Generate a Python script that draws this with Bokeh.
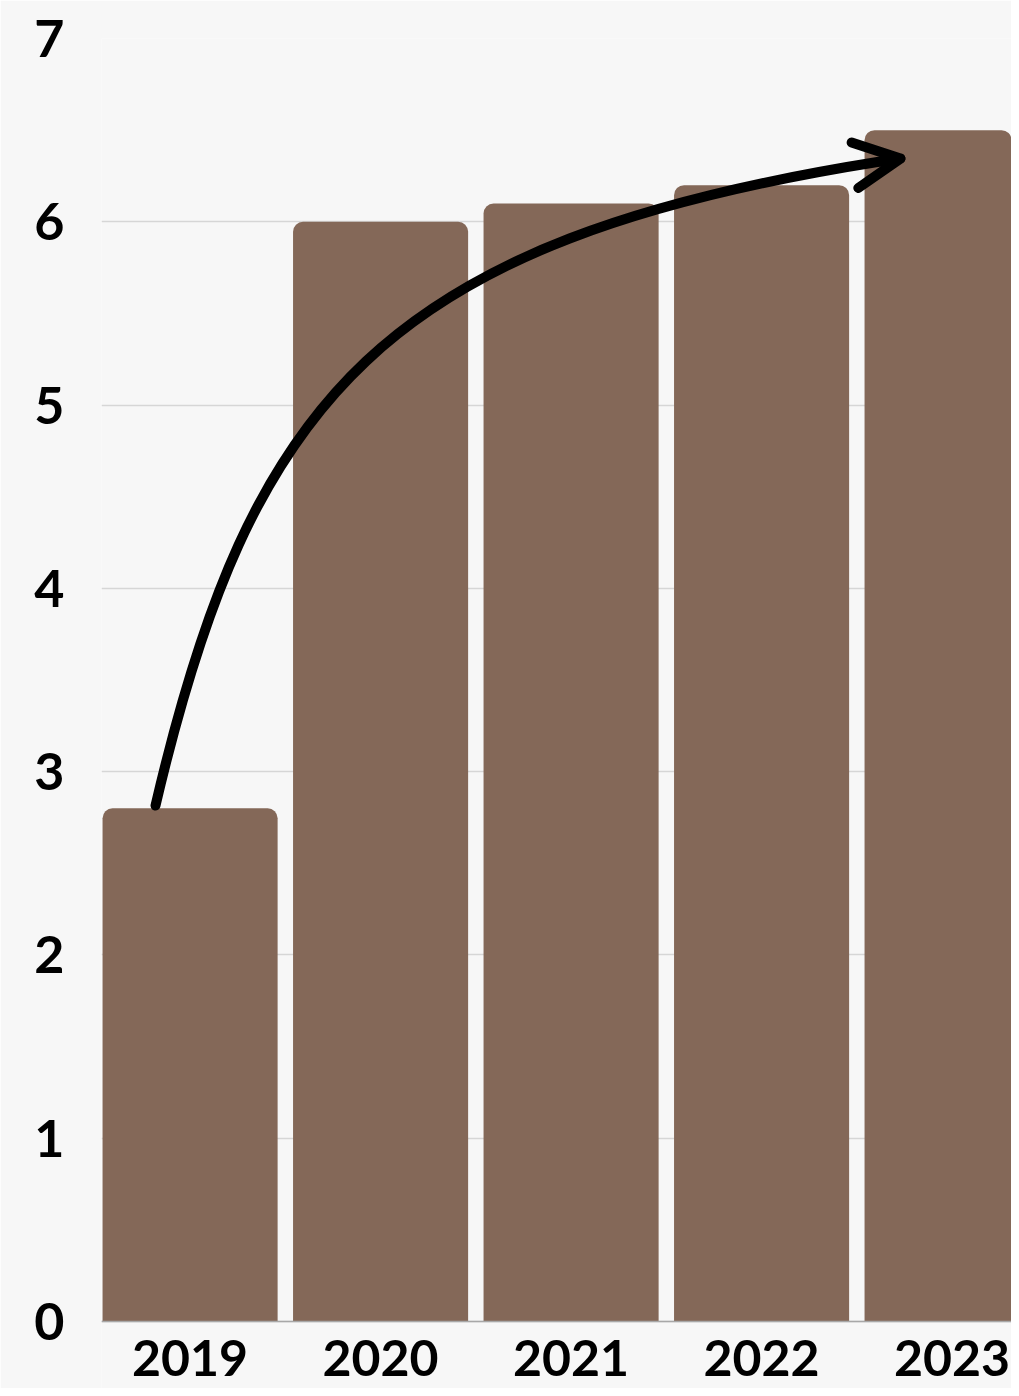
from bokeh.plotting import figure
from bokeh.models import FixedTicker, Arrow, OpenHead, ColumnDataSource, Span
from bokeh.core.properties import value
from bokeh.embed import file_html
from bokeh.resources import INLINE

years = ["2019", "2020", "2021", "2022", "2023"]
values = [2.8, 6.0, 6.1, 6.2, 6.5]
y_ticks = [0, 1, 2, 3, 4, 5, 6, 7]

xs = list(range(len(years)))
src = ColumnDataSource(dict(x=xs, top=values))

BG = "#f7f7f7"
BAR = "#846858"
FONT = "Lato"

W, H = 1011, 1388
LEFT, TOP = 101, 38
PX_PER_X = 190.5
PX_PER_Y = 183.29
X0 = -0.465
frame_w = W - LEFT
frame_h = H - TOP
y_top = max(y_ticks)
y_bottom = y_top - frame_h / PX_PER_Y

p = figure(width=W, height=H, output_backend="svg", toolbar_location=None,
           x_range=(X0, X0 + frame_w / PX_PER_X), y_range=(y_bottom, y_top),
           min_border_left=LEFT, min_border_right=0, min_border_top=TOP, min_border_bottom=0)
p.background_fill_color = BG
p.border_fill_color = BG
p.outline_line_color = None

p.vbar(x="x", top="top", bottom=0, width=0.919, source=src,
       fill_color=BAR, line_color=None, border_radius=(10, 10, 0, 0))

p.add_layout(Span(location=0, dimension="width", line_color="#a8a8a8", line_width=1.5))

# category labels under the bars
p.text(x=xs, y=[-36 / PX_PER_Y] * len(xs), text=years, text_align="center",
       text_baseline="middle", text_font=value(FONT), text_font_style="bold",
       text_font_size="50px", text_color="black")

# curved arrow from the first bar to the last bar
x0, y0 = xs[0] - 0.1815, values[0] + 0.015
cx0, cy0 = xs[0] + 0.317, values[0] + 2.225
cx1, cy1 = xs[1] - 0.001, values[1] - 0.102
x3, y3 = xs[4] - 0.376, values[4] - 0.171
xt, yt = xs[4] - 0.271, values[4] - 0.155
p.bezier(x0=[x0], y0=[y0], x1=[x3], y1=[y3], cx0=[cx0], cy0=[cy0],
         cx1=[cx1], cy1=[cy1], line_color="black", line_width=10, line_cap="round")
p.add_layout(Arrow(end=OpenHead(size=46, line_width=10, line_color="black", line_cap="round",
                                line_join="round"),
                   x_start=x3, y_start=y3, x_end=xt, y_end=yt,
                   line_color="black", line_width=10, line_cap="round"))

p.xgrid.grid_line_color = None
p.ygrid.grid_line_color = "#d6d6d6"
p.ygrid.grid_line_width = 1.5
p.ygrid.ticker = FixedTicker(ticks=y_ticks)

p.xaxis.visible = False

p.yaxis.ticker = FixedTicker(ticks=y_ticks)
p.yaxis.axis_line_color = None
p.yaxis.major_tick_line_color = None
p.yaxis.minor_tick_line_color = None
p.yaxis.major_label_standoff = 31
p.yaxis.major_label_text_font = FONT
p.yaxis.major_label_text_font_size = "52px"
p.yaxis.major_label_text_font_style = "bold"
p.yaxis.major_label_text_color = "black"

open("out.html", "w").write(file_html(p, INLINE))
